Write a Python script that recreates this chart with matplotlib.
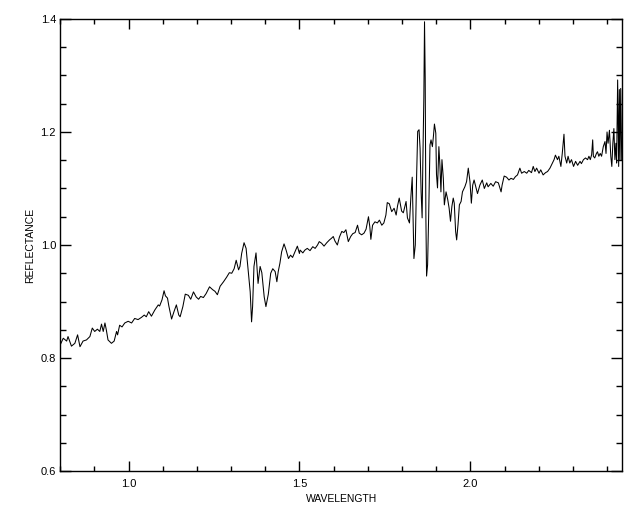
import matplotlib
matplotlib.use("Agg")
import matplotlib.pyplot as plt
from matplotlib.ticker import MultipleLocator

# Espectro de reflectancia
wavelength = [
    0.800, 0.809, 0.819, 0.823, 0.833, 0.843, 0.851, 0.858, 0.867, 0.877,
    0.887, 0.894, 0.901, 0.909, 0.916, 0.921, 0.926, 0.931, 0.935, 0.940,
    0.950, 0.958, 0.965, 0.968, 0.974, 0.981, 0.989, 0.999, 1.009, 1.018,
    1.028, 1.038, 1.046, 1.052, 1.059, 1.067, 1.077, 1.087, 1.091, 1.098,
    1.104, 1.108, 1.114, 1.118, 1.126, 1.133, 1.140, 1.147,
    1.151, 1.159, 1.166, 1.175, 1.182, 1.190, 1.198, 1.205, 1.211, 1.219,
    1.227, 1.237, 1.246, 1.253, 1.260, 1.268, 1.278, 1.287, 1.295, 1.302,
    1.309, 1.315, 1.322, 1.326, 1.331, 1.338, 1.344, 1.351, 1.356, 1.360,
    1.363, 1.367, 1.373, 1.379, 1.385, 1.390, 1.397, 1.402, 1.409, 1.416,
    1.422, 1.429, 1.434, 1.438, 1.443, 1.448, 1.455, 1.461, 1.468, 1.474,
    1.480, 1.487, 1.494, 1.500,
    1.502, 1.510, 1.516, 1.523, 1.531, 1.539, 1.546, 1.553, 1.558, 1.565,
    1.572, 1.580, 1.588, 1.594, 1.599, 1.604, 1.611, 1.617, 1.624, 1.630,
    1.636, 1.643, 1.650, 1.656, 1.663, 1.670, 1.675, 1.682, 1.689, 1.695,
    1.702, 1.706, 1.709, 1.714, 1.721, 1.728, 1.734, 1.741, 1.747, 1.753,
    1.757, 1.763, 1.770, 1.777, 1.783, 1.787, 1.792,
    1.799, 1.804, 1.809, 1.812, 1.816, 1.822, 1.826, 1.830, 1.833, 1.835,
    1.839, 1.843, 1.846, 1.850, 1.853, 1.856, 1.859, 1.861, 1.864, 1.866,
    1.868, 1.870, 1.872, 1.875, 1.878, 1.882, 1.885, 1.889, 1.892, 1.895,
    1.899, 1.901, 1.904, 1.908, 1.911, 1.914, 1.917, 1.921, 1.924, 1.929,
    1.934, 1.938, 1.942, 1.946, 1.950, 1.953, 1.957, 1.960, 1.964, 1.968,
    1.973, 1.977, 1.984, 1.989, 1.994, 1.999, 2.003, 2.007, 2.011,
    2.021, 2.028, 2.035, 2.041, 2.048, 2.052, 2.060, 2.067, 2.074, 2.082,
    2.090, 2.093, 2.099, 2.106, 2.113, 2.119, 2.126, 2.132, 2.138, 2.145,
    2.150, 2.158, 2.165, 2.171, 2.179, 2.184, 2.189, 2.194, 2.201, 2.206,
    2.213, 2.220, 2.226, 2.233, 2.240, 2.245, 2.249, 2.255, 2.259, 2.265,
    2.269, 2.274, 2.277, 2.282, 2.286, 2.291, 2.296, 2.302, 2.308, 2.314,
    2.321, 2.325, 2.331, 2.337, 2.343, 2.347, 2.351, 2.355, 2.358, 2.360,
    2.364, 2.369, 2.372, 2.376, 2.380, 2.384, 2.389, 2.394, 2.397, 2.400,
    2.403, 2.407, 2.411, 2.414, 2.417, 2.420, 2.423, 2.426, 2.428, 2.431,
    2.434, 2.436, 2.438, 2.440, 2.443,
]

reflectance = [
    0.823, 0.835, 0.830, 0.838, 0.821, 0.826, 0.841, 0.820, 0.830, 0.832,
    0.838, 0.853, 0.847, 0.851, 0.847, 0.860, 0.847, 0.862, 0.850, 0.832,
    0.826, 0.830, 0.847, 0.841, 0.858, 0.855, 0.862, 0.865, 0.862, 0.870,
    0.868, 0.872, 0.876, 0.873, 0.882, 0.874, 0.885, 0.894, 0.892, 0.903,
    0.919, 0.910, 0.906, 0.892, 0.869, 0.882, 0.894, 0.876,
    0.873, 0.891, 0.913, 0.911, 0.904, 0.917, 0.908, 0.904, 0.909, 0.907,
    0.914, 0.926, 0.921, 0.918, 0.912, 0.927, 0.935, 0.943, 0.951, 0.950,
    0.958, 0.973, 0.956, 0.962, 0.985, 1.004, 0.994, 0.950, 0.917, 0.864,
    0.891, 0.962, 0.986, 0.932, 0.962, 0.951, 0.908, 0.891, 0.913, 0.950,
    0.958, 0.953, 0.935, 0.953, 0.968, 0.988, 1.002, 0.991, 0.976, 0.982,
    0.978, 0.988, 0.998, 0.985,
    0.991, 0.986, 0.991, 0.994, 0.990, 0.997, 0.994, 1.000, 1.006, 1.003,
    0.998, 1.004, 1.009, 1.012, 1.015, 1.007, 1.000, 1.014, 1.024, 1.022,
    1.027, 1.006, 1.015, 1.020, 1.022, 1.035, 1.021, 1.018, 1.021, 1.028,
    1.050, 1.032, 1.010, 1.035, 1.041, 1.039, 1.044, 1.035, 1.039, 1.053,
    1.075, 1.073, 1.059, 1.065, 1.053, 1.069, 1.083,
    1.060, 1.057, 1.069, 1.077, 1.048, 1.039, 1.084, 1.120, 1.036, 0.976,
    1.000, 1.125, 1.201, 1.204, 1.171, 1.094, 1.048, 1.143, 1.260, 1.395,
    1.295, 1.048, 0.945, 0.965, 1.048, 1.177, 1.186, 1.174, 1.192, 1.214,
    1.198, 1.125, 1.101, 1.174, 1.141, 1.094, 1.151, 1.118, 1.071, 1.094,
    1.080, 1.065, 1.042, 1.068, 1.083, 1.074, 1.024, 1.009, 1.036, 1.071,
    1.077, 1.094, 1.103, 1.112, 1.136, 1.112, 1.074, 1.106, 1.115,
    1.091, 1.106, 1.115, 1.100, 1.110, 1.103, 1.109, 1.104, 1.112, 1.110,
    1.094, 1.106, 1.122, 1.120, 1.115, 1.118, 1.116, 1.121, 1.124, 1.136,
    1.127, 1.130, 1.127, 1.132, 1.128, 1.139, 1.130, 1.136, 1.127, 1.133,
    1.124, 1.128, 1.130, 1.136, 1.145, 1.151, 1.159, 1.151, 1.157, 1.139,
    1.162, 1.196, 1.157, 1.145, 1.157, 1.145, 1.151, 1.139, 1.148, 1.141,
    1.148, 1.144, 1.151, 1.154, 1.151, 1.157, 1.151, 1.160, 1.186, 1.157,
    1.154, 1.162, 1.165, 1.157, 1.162, 1.157, 1.174, 1.183, 1.162, 1.200,
    1.180, 1.203, 1.157, 1.139, 1.180, 1.206, 1.151, 1.180, 1.145, 1.292,
    1.139, 1.275, 1.151, 1.277, 1.150,
]

x_ticks = [1.0, 1.5, 2.0]
y_ticks = [0.6, 0.8, 1.0, 1.2, 1.4]

plt.rcParams['font.family'] = ['Liberation Sans', 'DejaVu Sans']

fig = plt.figure(figsize=(6.4, 5.12), dpi=100)
ax = fig.add_axes([0.094, 0.080, 0.878, 0.883])

ax.plot(wavelength, reflectance, color='black', linewidth=0.75)

ax.set_xlim(0.8, 2.444)
ax.set_ylim(0.6, 1.4)

# Ticks estilo IDL: hacia dentro y en los cuatro lados
ax.set_xticks(x_ticks)
ax.set_xticklabels([f'{t:.1f}' for t in x_ticks])
ax.set_yticks(y_ticks)
ax.set_yticklabels([f'{t:.1f}' for t in y_ticks])
ax.xaxis.set_minor_locator(MultipleLocator(0.1))
ax.yaxis.set_minor_locator(MultipleLocator(0.05))
ax.tick_params(axis='both', which='both', direction='in',
               top=True, right=True, width=1.0, labelsize=8, pad=6)
ax.tick_params(axis='x', which='major', length=7)
ax.tick_params(axis='x', which='minor', length=3.6)
ax.tick_params(axis='y', which='major', length=8)
ax.tick_params(axis='y', which='minor', length=4.5)
ax.tick_params(axis='y', which='major', pad=3)

for s in ax.spines.values():
    s.set_linewidth(1.0)

ax.set_xlabel('WAVELENGTH', fontsize=7.5, labelpad=3)
ax.set_ylabel('REFLECTANCE', fontsize=7.5, labelpad=4)

fig.savefig('out.png', dpi=100)
